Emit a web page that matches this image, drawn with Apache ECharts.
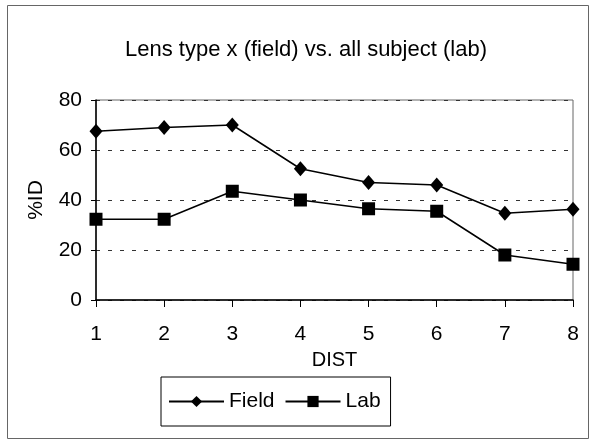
<!DOCTYPE html>
<html><head><meta charset="utf-8">
<script src="https://cdn.jsdelivr.net/npm/echarts@6/dist/echarts.min.js"></script>
<style>html,body{margin:0;padding:0;background:#fff}#c{width:590px;height:440px}</style>
</head><body><div id="c"></div>
<script>
const categories = ['1','2','3','4','5','6','7','8'];
const fieldValues = [67.5, 69, 70, 52.5, 47, 46, 34.7, 36.3];
const labValues = [32.3, 32.3, 43.5, 40, 36.5, 35.5, 18, 14.3];
const yTicks = [0, 20, 40, 60, 80];

const font = 'Liberation Sans, Arial, sans-serif';
const chart = echarts.init(document.getElementById('c'));
chart.setOption({
  animation: false,
  backgroundColor: '#fff',
  graphic: [{
    type: 'rect', shape: {x: 7.5, y: 5.5, width: 581, height: 433},
    style: {fill: 'none', stroke: '#666', lineWidth: 1}, silent: true, z: -1
  }],
  title: {
    text: 'Lens type x (field) vs. all subject (lab)',
    left: 301, top: 34, textAlign: 'center',
    textStyle: {fontFamily: font, fontSize: 22, fontWeight: 'normal', color: '#000'}
  },
  grid: {left: 96, right: 17, top: 100, bottom: 140, show: true, borderColor: '#666', borderWidth: 1},
  legend: {
    data: ['Field', 'Lab'],
    left: 161, top: 377,
    padding: [14, 10, 14, 7],
    itemGap: 10, itemWidth: 55, itemHeight: 14,
    borderColor: '#000', borderWidth: 1,
    textStyle: {fontFamily: font, fontSize: 21, color: '#000'}
  },
  xAxis: {
    type: 'category', data: categories, boundaryGap: false,
    name: 'DIST', nameLocation: 'middle', nameGap: 50,
    nameTextStyle: {fontFamily: font, fontSize: 20, color: '#000'},
    axisLine: {lineStyle: {color: '#000', width: 1.5}},
    axisTick: {show: true, length: 7, lineStyle: {color: '#000'}},
    axisLabel: {fontFamily: font, fontSize: 21, color: '#000', margin: 24}
  },
  yAxis: {
    type: 'value', min: yTicks[0], max: yTicks[yTicks.length - 1], interval: 20,
    name: '%ID', nameLocation: 'middle', nameGap: 49,
    nameTextStyle: {fontFamily: font, fontSize: 21, color: '#000'},
    axisLine: {show: true, lineStyle: {color: '#000', width: 1.5}},
    axisTick: {show: true, length: 5, lineStyle: {color: '#000'}},
    axisLabel: {fontFamily: font, fontSize: 21, color: '#000', margin: 14},
    splitLine: {show: true, lineStyle: {color: '#333', type: [4, 8], width: 1}}
  },
  series: [{
    name: 'Field', type: 'line', data: fieldValues,
    symbol: 'diamond', symbolSize: [13, 15],
    lineStyle: {color: '#000', width: 1.5}, itemStyle: {color: '#000'}
  }, {
    name: 'Lab', type: 'line', data: labValues,
    symbol: 'rect', symbolSize: 13,
    lineStyle: {color: '#000', width: 1.5}, itemStyle: {color: '#000'}
  }]
});
</script></body></html>
